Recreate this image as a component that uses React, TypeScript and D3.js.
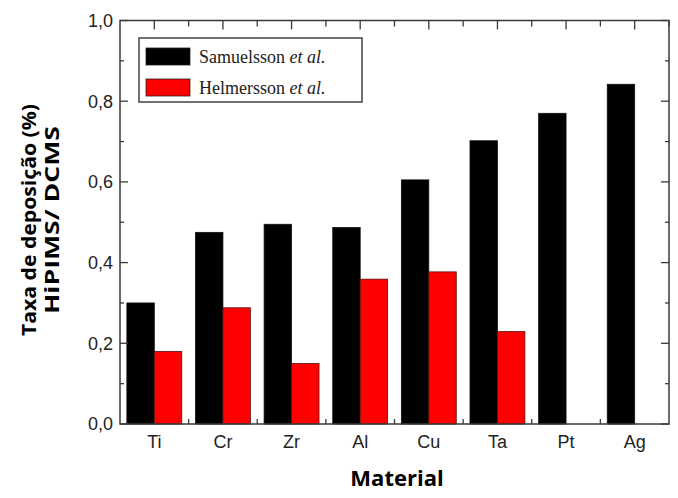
import React from "react";
import * as d3 from "d3";

const categories = ["Ti", "Cr", "Zr", "Al", "Cu", "Ta", "Pt", "Ag"];
const samuelsson = [0.30, 0.475, 0.495, 0.487, 0.605, 0.702, 0.77, 0.842];
const helmersson = [0.18, 0.288, 0.15, 0.359, 0.377, 0.229, null, null];
const yTicks = [0, 0.2, 0.4, 0.6, 0.8, 1.0];
const seriesNames = ["Samuelsson", "Helmersson"];
const seriesColors = ["#000000", "#ff0000"];

export default function App() {
  const W = 678, H = 498;
  const left = 120, right = 669, top = 20.5, bottom = 424;
  const x = d3.scaleLinear().domain([0.5, categories.length + 0.5]).range([left, right]);
  const y = d3.scaleLinear().domain([0, 1]).range([bottom, top]);
  const bw = x(1.4) - x(1);
  const minorY = d3.range(0, 1.0001, 0.1);
  const topTicks = d3.range(1, categories.length + 0.6, 0.5);
  const botTicks = d3.range(1.5, categories.length, 1);
  const fmt = (v: number) => d3.format(".1f")(v).replace(".", ",");
  const axisColor = "#3a3a3a";

  return (
    <svg width={W} height={H} style={{ position: "absolute", left: 0, top: 0, background: "#fff" }}>
      {/* bars */}
      {categories.map((c, i) => {
        const cx = x(i + 1);
        const v1 = samuelsson[i];
        const v2 = helmersson[i];
        return (
          <g key={c}>
            <rect x={cx - bw} y={y(v1)} width={bw} height={y(0) - y(v1)} fill={seriesColors[0]} stroke="#111" strokeWidth={0.8} />
            {v2 != null && (
              <rect x={cx} y={y(v2)} width={bw} height={y(0) - y(v2)} fill={seriesColors[1]} stroke="#5a1010" strokeWidth={0.8} />
            )}
          </g>
        );
      })}
      {/* frame */}
      <rect x={left} y={top} width={right - left} height={bottom - top} fill="none" stroke={axisColor} strokeWidth={1.5} />
      {/* y ticks left & right */}
      {minorY.map((v, i) => {
        const major = i % 2 === 0;
        const len = major ? 8 : 4;
        return (
          <g key={"yt" + i}>
            <line x1={left} x2={left + len} y1={y(v)} y2={y(v)} stroke={axisColor} strokeWidth={1.3} />
            <line x1={right} x2={right - len} y1={y(v)} y2={y(v)} stroke={axisColor} strokeWidth={1.3} />
          </g>
        );
      })}
      {yTicks.map((v) => (
        <text key={"yl" + v} x={113} y={y(v)} dy="0.36em" textAnchor="end" fontFamily="Liberation Sans, Arial, sans-serif" fontSize={18} fill="#222">
          {fmt(v)}
        </text>
      ))}
      {/* top ticks */}
      {topTicks.map((v, i) => (
        <line key={"tt" + i} x1={x(v)} x2={x(v)} y1={top} y2={top + (i % 2 === 0 ? 9 : 6)} stroke={axisColor} strokeWidth={1.3} />
      ))}
      {/* bottom ticks */}
      {botTicks.map((v, i) => (
        <line key={"bt" + i} x1={x(v)} x2={x(v)} y1={bottom} y2={bottom - 5} stroke={axisColor} strokeWidth={1.3} />
      ))}
      {categories.map((c, i) => (
        <text key={"xl" + c} x={x(i + 1)} y={448} textAnchor="middle" fontFamily="Liberation Sans, Arial, sans-serif" fontSize={18} fill="#222">
          {c}
        </text>
      ))}
      {/* legend */}
      <rect x={139} y={38} width={223} height={64} fill="#fff" stroke="#444" strokeWidth={1.5} />
      {seriesNames.map((n, i) => (
        <g key={n}>
          <rect x={146} y={48 + i * 31} width={44} height={17} fill={seriesColors[i]} stroke="#222" strokeWidth={0.8} />
          <text x={199} y={63 + i * 31} fontFamily="Liberation Serif, Times New Roman, serif" fontSize={18} fill="#222">
            {n} <tspan fontStyle="italic">et al.</tspan>
          </text>
        </g>
      ))}
      {/* axis titles */}
      <text x={397} y={486} textAnchor="middle" fontFamily="Open Sans, sans-serif" fontWeight="bold" fontSize={22} fill="#000">
        Material
      </text>
      <g transform="translate(0,220) rotate(-90)">
        <text x={0} y={36} textAnchor="middle" fontFamily="Open Sans, sans-serif" fontWeight="bold" fontSize={20} fill="#000" textLength={232} lengthAdjust="spacingAndGlyphs">
          Taxa de deposição (%)
        </text>
        <text x={0} y={59} textAnchor="middle" fontFamily="Open Sans, sans-serif" fontWeight="bold" fontSize={20} fill="#000" textLength={188} lengthAdjust="spacingAndGlyphs">
          HiPIMS/ DCMS
        </text>
      </g>
    </svg>
  );
}
